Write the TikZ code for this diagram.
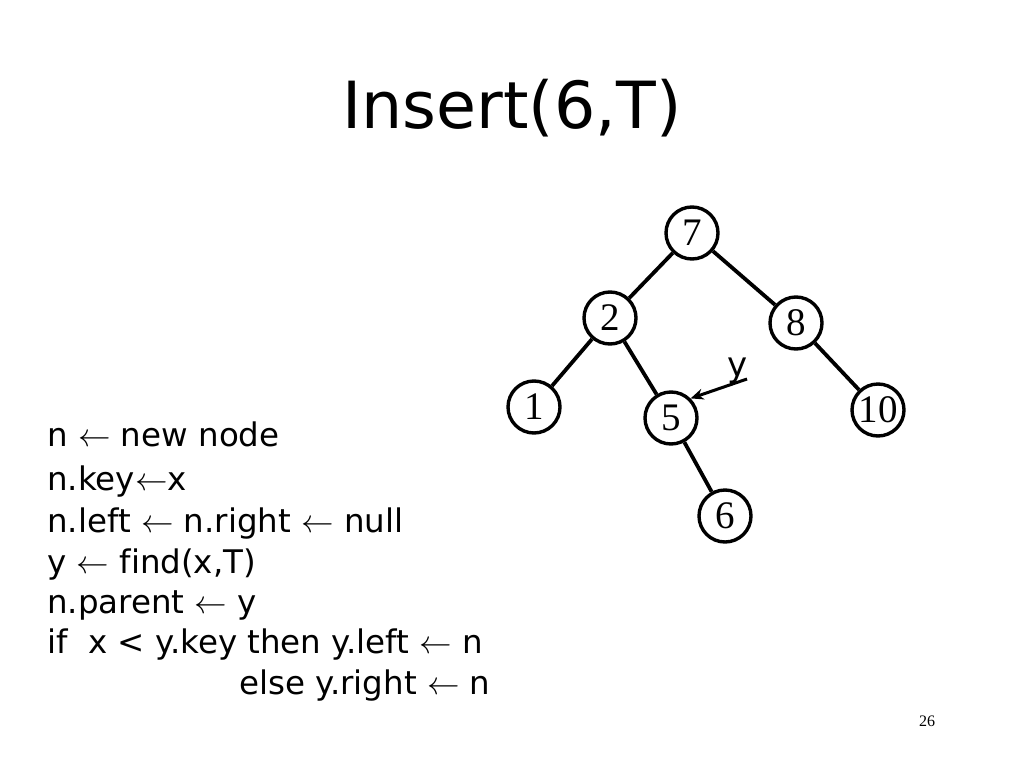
\RequirePackage{fix-cm}
\documentclass[tikz,border=0pt]{standalone}
\usepackage{fontspec}
\setmainfont[Ligatures=NoCommon]{DejaVu Sans}
\newfontfamily\treefont{Liberation Serif}
\usetikzlibrary{arrows.meta}
\newcommand{\la}{\ensuremath{\leftarrow}}
\begin{document}
\begin{tikzpicture}[x=1pt,y=-1pt,
  tnode/.style={circle,draw,line width=3.4pt,minimum size=52pt,inner sep=0pt,font=\treefont\fontsize{39}{39}\selectfont},
  tedge/.style={line width=3.8pt},
  code/.style={anchor=base west,inner sep=0pt,font=\fontsize{32.5}{32.5}\selectfont}]
\useasboundingbox[fill=white] (0,0) rectangle (1024,768);
\node[font=\fontsize{65}{65}\selectfont,anchor=base] (title) at (512,128) {Insert(6,T)};
\node[tnode] (n7) at (692,233) {7};
\node[tnode] (n2) at (610,318) {2};
\node[tnode] (n8) at (796,323) {8};
\node[tnode] (n1) at (534,407) {1};
\node[tnode] (n5) at (671,418) {5};
\node[tnode] (n10) at (878,410) {10};
\node[tnode] (n6) at (725,516) {6};
\draw[tedge] (n7) -- (n2);
\draw[tedge] (n7) -- (n8);
\draw[tedge] (n2) -- (n1);
\draw[tedge] (n2) -- (n5);
\draw[tedge] (n8) -- (n10);
\draw[tedge] (n5) -- (n6);
\node[font=\fontsize{34}{34}\selectfont,anchor=base,inner sep=0pt] (ylab) at (738,376) {y};
\coordinate (ystart) at (747,379);
\draw[line width=3pt,-{Stealth[length=13pt,width=11pt]}] (ystart) -- (n5.north east);
\node[code] (l1) at (47,446) {n \la{} new node};
\node[code] (l2) at (47,490) {n.key\la x};
\node[code] (l3) at (47,532) {n.left \la{} n.right \la{} null};
\node[code] (l4) at (47,573) {y \la{} find(x,T)};
\node[code] (l5) at (47,613) {n.parent \la{} y};
\node[code] (l6) at (47,653) {if\ \ x < y.key then y.left \la{} n};
\node[code] (l7) at (239,694) {else y.right \la{} n};
\node[font=\treefont\fontsize{16}{16}\selectfont,anchor=base] (pg) at (927,726) {26};
\end{tikzpicture}
\end{document}
